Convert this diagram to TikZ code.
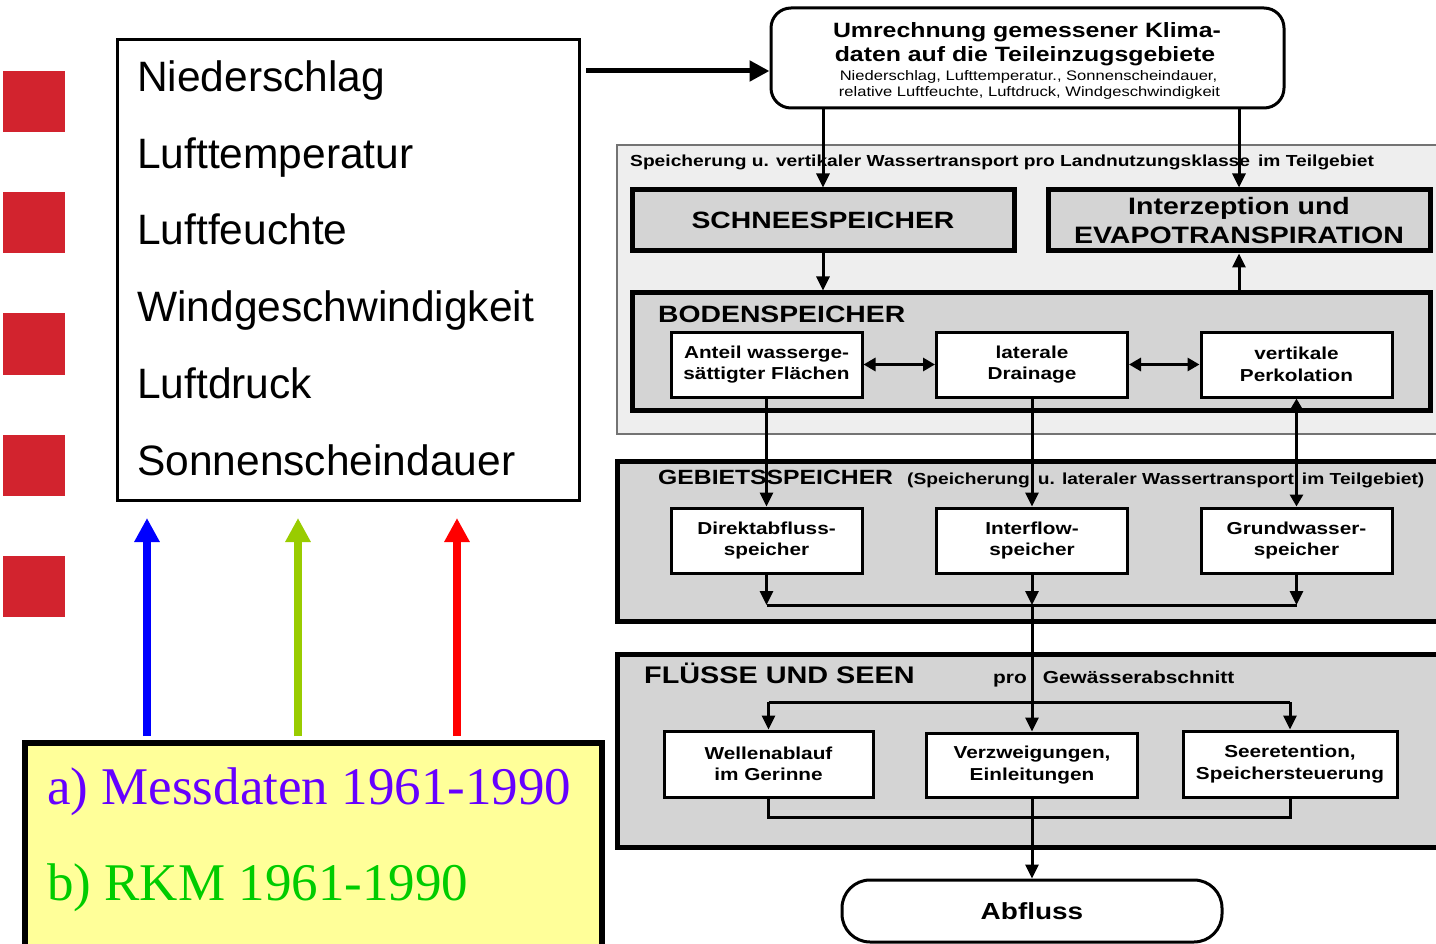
\documentclass[tikz,border=0pt]{standalone}
\usepackage{fontspec}
\setmainfont{Liberation Sans}
\newfontfamily\rfont{Liberation Sans}[FakeStretch=1.2]
\newfontfamily\serfont{Liberation Serif}
\usetikzlibrary{arrows.meta}
\definecolor{sqred}{HTML}{D2232E}
\definecolor{panelgray}{HTML}{D4D4D4}
\definecolor{lightpanel}{HTML}{EEEEEE}
\definecolor{yelbox}{HTML}{FFFF99}
\definecolor{msviolet}{HTML}{6600FF}
\definecolor{rkmgreen}{HTML}{00CC00}
\definecolor{arrblue}{HTML}{0000FF}
\definecolor{arrgreen}{HTML}{99CC00}
\definecolor{arrred}{HTML}{FF0000}
\begin{document}
\begin{tikzpicture}[x=1pt,y=-1pt,
  redsq/.style={fill=sqred,draw=none,minimum width=62pt,minimum height=61pt,inner sep=0pt},
  ltext/.style={anchor=base west,inner sep=0pt,font=\fontsize{42.5}{50}\selectfont},
  panel/.style={draw,fill=panelgray,line width=5pt,inner sep=0pt},
  inbox/.style={draw,fill=white,line width=3pt,inner sep=0pt,minimum width=191pt,minimum height=65pt,align=center,font=\rfont\bfseries\fontsize{17.3}{21.5}\selectfont},
  hdr/.style={anchor=base west,inner sep=0pt,font=\rfont\bfseries\fontsize{23.6}{28}\selectfont},
  lbl/.style={anchor=base west,inner sep=0pt,font=\rfont\bfseries\fontsize{16}{19}\selectfont},
  conn/.style={line width=3pt},
  arr/.style={conn,-{Triangle[length=14pt,width=13pt]}},
  darr/.style={conn,{Triangle[length=12pt,width=13pt]}-{Triangle[length=12pt,width=13pt]}},
  colarr/.style={line width=8pt,-{Triangle[length=24pt,width=24pt]}},
]
\fill[white] (0,0) rectangle (1436,944);
\useasboundingbox (0,0) rectangle (1436,944);

% left part
\node[redsq] (r1) at (34,101.5) {};
\node[redsq] (r2) at (34,223) {};
\node[redsq] (r3) at (34,344) {};
\node[redsq] (r4) at (34,465) {};
\node[redsq] (r5) at (34,586.5) {};

\node[draw,line width=3pt,minimum width=462pt,minimum height=460pt,inner sep=0pt] (lbox) at (348,270) {};
\node[ltext] (l1) at (137,92) {Niederschlag};
\node[ltext] (l2) at (137,169) {Lufttemperatur};
\node[ltext] (l3) at (137,245) {Luftfeuchte};
\node[ltext] (l4) at (137,322) {Windgeschwindigkeit};
\node[ltext] (l5) at (137,398) {Luftdruck};
\node[ltext] (l6) at (137,475) {Sonnenscheindauer};

\node[draw,line width=6pt,fill=yelbox,minimum width=577pt,minimum height=240pt,inner sep=0pt] (ybox) at (313.5,863) {};
\node[anchor=base west,inner sep=0pt,text=msviolet,font=\serfont\fontsize{53}{60}\selectfont] (ya) at (47,804) {a) Messdaten 1961-1990};
\node[anchor=base west,inner sep=0pt,text=rkmgreen,font=\serfont\fontsize{53}{60}\selectfont] (yb) at (47,900) {b) RKM 1961-1990};

\coordinate (bs) at (147,736); \coordinate (be) at (147,518);
\coordinate (gs) at (298,736); \coordinate (ge) at (298,518);
\coordinate (rs) at (457,736); \coordinate (re) at (457,518);
\draw[colarr,arrblue] (bs) -- (be);
\draw[colarr,arrgreen] (gs) -- (ge);
\draw[colarr,arrred] (rs) -- (re);

% top box
\node[draw,line width=3pt,rounded corners=20pt,minimum width=513pt,minimum height=100pt,inner sep=0pt] (klima) at (1027.5,58) {};
\node[anchor=base,inner sep=0pt,font=\rfont\bfseries\fontsize{20.7}{24}\selectfont] (k1) at (1027,38) {Umrechnung gemessener Klima-};
\node[anchor=base,inner sep=0pt,font=\rfont\bfseries\fontsize{20.7}{24}\selectfont] (k2) at (1025,62) {daten auf die Teileinzugsgebiete};
\node[anchor=base,inner sep=0pt,font=\rfont\fontsize{13.8}{16}\selectfont] (k3) at (1028.5,81) {Niederschlag, Lufttemperatur., Sonnenscheindauer,};
\node[anchor=base,inner sep=0pt,font=\rfont\fontsize{13.8}{16}\selectfont] (k4) at (1029.5,97) {relative Luftfeuchte, Luftdruck, Windgeschwindigkeit};

\coordinate (ks) at (586,71);
\draw[line width=5pt,-{Triangle[length=20pt,width=20pt]}] (ks) -- (ks -| klima.west);

% Speicherung panel
\node[draw=black!55,fill=lightpanel,line width=1.5pt,minimum width=830pt,minimum height=289pt,inner sep=0pt] (spanel) at (1032,289.5) {};
\node[lbl] (slbl) at (630,167) {Speicherung u. vertikaler Wassertransport pro Landnutzungsklasse\hspace{8pt}im Teilgebiet};

\node[panel,minimum width=382pt,minimum height=61pt,font=\rfont\bfseries\fontsize{23.6}{28}\selectfont] (schnee) at (823,220.5) {SCHNEESPEICHER};
\node[panel,minimum width=382pt,minimum height=61pt,align=center,font=\rfont\bfseries\fontsize{23.75}{29}\selectfont] (interz) at (1239,220.5) {Interzeption und\\EVAPOTRANSPIRATION};

\node[panel,minimum width=798pt,minimum height=117pt] (boden) at (1031,351.5) {};
\node[hdr] (bodenL) at (658,323) {BODENSPEICHER};
\node[inbox] (anteil) at (766.5,364.5) {Anteil wasserge-\\sättigter Flächen};
\node[inbox] (lateral) at (1032,364.5) {laterale\\Drainage};
\node[inbox] (vertik) at (1296.5,364.5) {vertikale\\Perkolation};

% Gebietsspeicher
\node[panel,minimum width=830pt,minimum height=160pt] (gebiet) at (1032,541) {};
\node[hdr,font=\rfont\bfseries\fontsize{20.6}{24}\selectfont] (gebL) at (658,484) {GEBIETSSPEICHER};
\node[lbl] (gebL2) at (907,484) {(Speicherung\hspace{8pt}u. lateraler Wassertransport\hspace{8pt}im Teilgebiet)};
\node[inbox] (direkt) at (766.5,540.5) {Direktabfluss-\\speicher};
\node[inbox] (inter) at (1032,540.5) {Interflow-\\speicher};
\node[inbox] (grund) at (1296.5,540.5) {Grundwasser-\\speicher};
\coordinate (cL) at (766.5,605);
\coordinate (cM) at (1032,605);
\coordinate (cR) at (1296.5,605);

% Fluesse und Seen
\node[panel,minimum width=830pt,minimum height=193pt] (fluss) at (1032,750.5) {};
\node[hdr,font=\rfont\bfseries\fontsize{24}{28}\selectfont] (flL) at (644,683) {FLÜSSE UND SEEN};
\node[lbl,font=\rfont\bfseries\fontsize{17.4}{20}\selectfont] (flL2) at (993,683) {pro\hspace{16pt}Gewässerabschnitt};
\node[inbox,minimum width=209pt,minimum height=66pt] (welle) at (768.5,764) {Wellenablauf\\im Gerinne};
\node[inbox,minimum width=211pt,minimum height=64pt] (verzw) at (1032,765) {Verzweigungen,\\Einleitungen};
\node[inbox,minimum width=214pt,minimum height=66pt] (seeret) at (1290,764) {Seeretention,\\Speichersteuerung};
\coordinate (dL) at (768.5,702);
\coordinate (dR) at (1290,702);
\coordinate (bL) at (768.5,817);
\coordinate (bR) at (1290,817);

\node[draw,fill=white,line width=3pt,rounded corners=28pt,minimum width=380pt,minimum height=62pt,inner sep=0pt,font=\rfont\bfseries\fontsize{23.3}{28}\selectfont] (abfluss) at (1032,911) {Abfluss};

% connectors
\draw[arr] (klima.south -| schnee.north) -- (schnee.north);
\draw[arr] (klima.south -| interz.north) -- (interz.north);
\draw[arr] (schnee.south) -- (schnee.south |- boden.north);
\draw[arr] (interz.south |- boden.north) -- (interz.south);
\draw[darr] (anteil.east) -- (lateral.west);
\draw[darr] (lateral.east) -- (vertik.west);
\draw[arr] (anteil.south) -- (direkt.north);
\draw[arr] (lateral.south) -- (inter.north);
\draw[darr] (vertik.south) -- (grund.north);
\draw[arr] (direkt.south) -- (cL);
\draw[arr] (inter.south) -- (cM);
\draw[arr] (grund.south) -- (cR);
\draw[conn] (cL) -- (cR);
\draw[arr] (cM) -- (verzw.north);
\draw[conn] (dL) -- (dR);
\draw[arr] (dL) -- (welle.north);
\draw[arr] (dR) -- (seeret.north);
\draw[conn] (welle.south) -- (bL) -- (bR) -- (seeret.south);
\draw[arr] (verzw.south) -- (abfluss.north);
\end{tikzpicture}
\end{document}
